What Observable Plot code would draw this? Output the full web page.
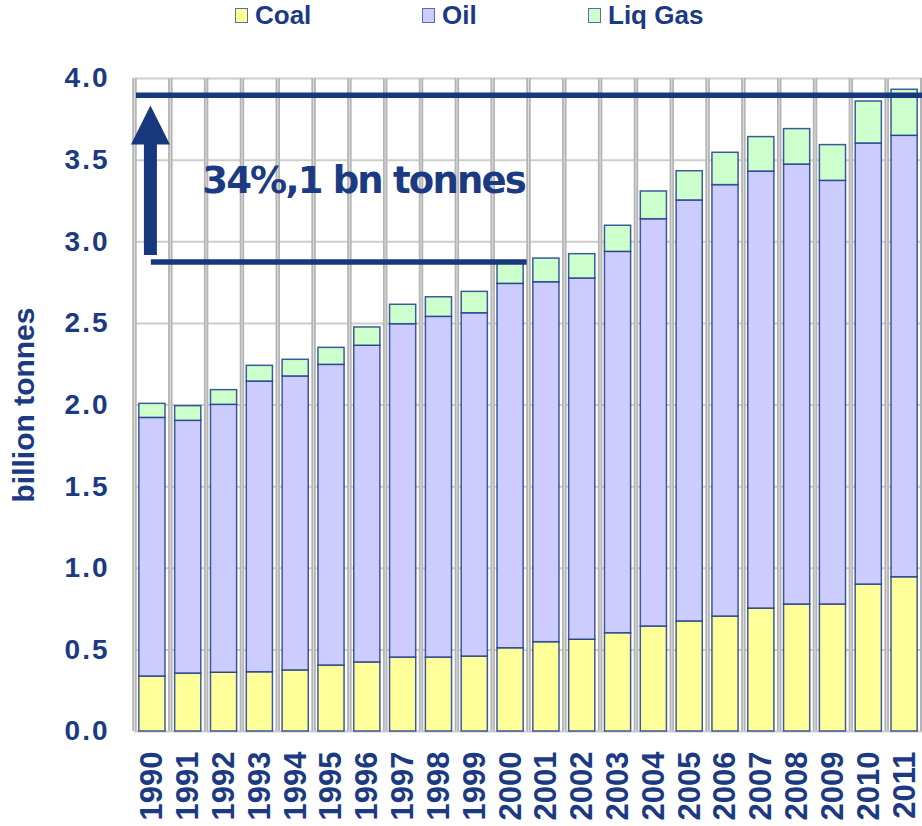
<!DOCTYPE html>
<html>
<head>
<meta charset="utf-8">
<script src="https://cdn.jsdelivr.net/npm/d3@7"></script>
<script src="https://cdn.jsdelivr.net/npm/@observablehq/plot@0.6"></script>
<style>
  html, body { margin: 0; padding: 0; background: #fff; }
  #wrap { width: 922px; }
  #legend { position: relative; height: 40px; width: 922px; font-family: "Liberation Sans", Arial, sans-serif; font-weight: bold; font-size: 26px; line-height: 30px; color: #1b3a82; }
  #legend .sw { position: absolute; top: 8px; width: 11px; height: 13px; border: 1.5px solid #5a6f9f; }
  #legend .lb { position: absolute; top: 0; }
  g[aria-label="y-axis tick label"] text { letter-spacing: 2px; }
</style>
</head>
<body>
<div id="wrap">
  <div id="legend"></div>
  <div id="chart"></div>
</div>
<script>
// ---- data (billion tonnes) ----
const years = [1990,1991,1992,1993,1994,1995,1996,1997,1998,1999,2000,2001,2002,2003,2004,2005,2006,2007,2008,2009,2010,2011];
const coal  = [0.337,0.355,0.360,0.363,0.374,0.404,0.423,0.453,0.453,0.459,0.510,0.547,0.562,0.602,0.643,0.674,0.704,0.753,0.778,0.778,0.900,0.945];
const oil   = [1.584,1.548,1.641,1.781,1.801,1.842,1.940,2.042,2.087,2.103,2.232,2.205,2.213,2.336,2.495,2.579,2.643,2.677,2.695,2.595,2.702,2.704];
const gas   = [0.086,0.090,0.090,0.096,0.102,0.104,0.112,0.119,0.120,0.131,0.128,0.145,0.149,0.160,0.170,0.179,0.198,0.211,0.217,0.219,0.257,0.282];
const seriesNames = ["Coal","Oil","Liq Gas"];
const seriesColors = ["#FFFF99","#CCCCFF","#CCFFCC"];
const yTicks = [0,0.5,1,1.5,2,2.5,3,3.5,4];
// annotation (values in billion tonnes)
const annText = "34%,1 bn tonnes";
const baseLevel = 2.876;   // level of 2000
const topLevel = 3.897;    // level of 2011
const arrowFrom = 2.916, arrowTo = 3.60, arrowHeadAt = 3.715, textLevel = 3.37;
const baseFromYear = 1990, baseToYear = 2000, arrowYear = 1990, textYear = 1991;

const navy = "#1b3a82";
const lineNavy = "#17387c";

// legend
const legend = document.getElementById("legend");
const legendPos = [[235,255],[422,442],[588,608]];
seriesNames.forEach((s,i) => {
  const sw = document.createElement("div");
  sw.className = "sw"; sw.style.left = legendPos[i][0] + "px"; sw.style.background = seriesColors[i];
  const lb = document.createElement("div");
  lb.className = "lb"; lb.style.left = legendPos[i][1] + "px"; lb.textContent = s;
  legend.appendChild(sw); legend.appendChild(lb);
});

const stacked = [];
years.forEach((y,i) => {
  stacked.push({year: y, series: "Coal", value: coal[i]});
  stacked.push({year: y, series: "Oil", value: oil[i]});
  stacked.push({year: y, series: "Liq Gas", value: gas[i]});
});

const W = 922, ML = 134, MR = 0, MT = 38, MB = 95, H = 786;
const step = (W - ML - MR) / years.length;

const tri = {draw(context, size) {
  const r = Math.sqrt(size / Math.PI);
  context.moveTo(0, -r); context.lineTo(r, r); context.lineTo(-r, r); context.closePath();
}};

const chart = Plot.plot({
  width: W, height: H,
  marginLeft: ML, marginRight: MR, marginTop: MT, marginBottom: MB,
  style: {fontFamily: "'Liberation Sans', Arial, sans-serif", fontWeight: "bold", color: navy, background: "#fff", overflow: "visible"},
  x: {type: "band", domain: years, paddingInner: 0.27, paddingOuter: 0.135, round: false, axis: null},
  y: {domain: [0, 4], axis: null},
  color: {domain: seriesNames, range: seriesColors},
  marks: [
    Plot.ruleY(yTicks, {stroke: "#cdcdcd", strokeWidth: 2}),
    Plot.ruleX(years, {dx: -step/2, stroke: "#b4b4b4", strokeWidth: 4.5}),
    Plot.ruleX(years, {dx: -step/2, stroke: "#dedede", strokeWidth: 1}),
    Plot.ruleX([years[years.length-1]], {dx: step/2 - 1, stroke: "#b4b4b4", strokeWidth: 3}),
    Plot.barY(stacked, {x: "year", y: "value", fill: "series", stroke: "#1f3d8c", strokeWidth: 1.5, strokeOpacity: 0.85}),
    Plot.ruleY([topLevel], {stroke: lineNavy, strokeWidth: 5.5, insetLeft: 2}),
    Plot.ruleY([{y: baseLevel, x1: baseFromYear, x2: baseToYear}], {y: "y", x1: "x1", x2: "x2", stroke: lineNavy, strokeWidth: 5.5, insetLeft: 12, insetRight: -3.5}),
    Plot.ruleX([{x: arrowYear, y1: arrowFrom, y2: arrowTo}], {x: "x", y1: "y1", y2: "y2", stroke: lineNavy, strokeWidth: 13, dx: -2}),
    Plot.dot([{x: arrowYear, y: arrowHeadAt}], {x: "x", y: "y", r: 19.5, symbol: tri, fill: lineNavy, stroke: "none", dx: -2}),
    Plot.text([{x: textYear, y: textLevel, t: annText}], {x: "x", y: "y", text: "t", textAnchor: "start", dx: 14, fontSize: 37, fontFamily: "'DejaVu Sans', Verdana, sans-serif", fontWeight: "bold", fill: navy}),
    Plot.axisY(yTicks, {tickFormat: d3.format(".1f"), tickSize: 0, tickPadding: 25, fontSize: 28, fontWeight: "bold", label: null}),
    Plot.axisX({tickFormat: d => String(d), tickRotate: -90, tickSize: 0, tickPadding: 20, fontSize: 31, fontWeight: "bold", label: null}),
    Plot.text(["billion tonnes"], {frameAnchor: "left", dx: -110, rotate: -90, textAnchor: "middle", fontSize: 30, fontWeight: "bold", fill: navy})
  ]
});
document.getElementById("chart").appendChild(chart);
d3.select(chart).selectAll("text").filter(function(){ return this.textContent === annText; }).style("letter-spacing", "-1.8px");
</script>
</body>
</html>
